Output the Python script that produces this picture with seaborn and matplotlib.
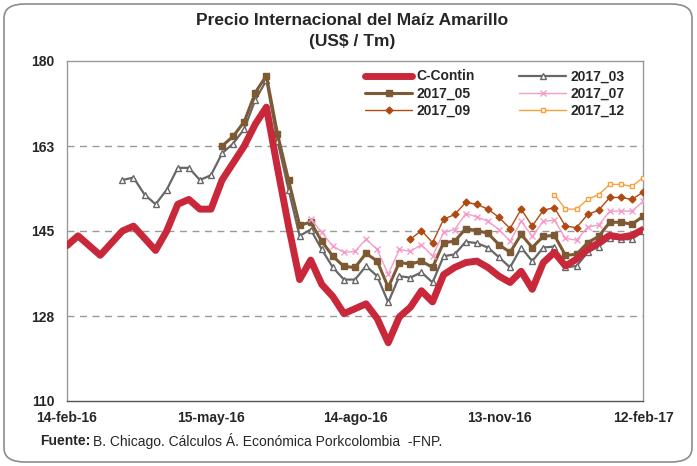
import numpy as np
import pandas as pd
import matplotlib
matplotlib.use("Agg")
import matplotlib.pyplot as plt
import seaborn as sns
from matplotlib.patches import FancyBboxPatch

nan = np.nan

# weekly dates, 14-feb-16 .. 12-feb-17
fechas = pd.date_range("2016-02-14", "2017-02-12", freq="7D")

c_contin = [142, 144, 142, 140, 142.5, 145, 146, 143.5, 141, 145,
            150.5, 151.5, 149.5, 149.5, 155.5, 159, 162.5, 167, 170.5, 158,
            146, 135, 139, 134, 131.5, 128, 129, 130, 127, 122,
            127.3, 129.3, 132.7, 130.4, 136, 137.5, 138.5, 138.8, 137.5, 135.7,
            134.4, 136.7, 133, 138.5, 140.6, 137.8, 139.2, 141.2, 142.6, 144.1,
            143.7, 144.1, 145.3]

s2017_03 = [nan, nan, nan, nan, nan, 155.5, 156, 152.5, 150.5, 153.5,
            158, 158, 155.5, 156.5, 161, 163, 166, 172, 176, 163.5,
            153.5, 144, 145.3, 141.2, 137.5, 135, 135, 137.8, 135.7, 130.3,
            135.7, 135.4, 136.5, 134.4, 139.8, 140.2, 142.8, 142.5, 141.6, 139.6,
            137.5, 141.6, 138.8, 141.6, 141.8, 137.5, 137.8, 140.6, 141.8, 143.5,
            143.3, 143.3, 145]

s2017_05 = [nan] * 14 + [162.5, 164.5, 167.5, 173.5, 177, 165,
            155.5, 146.2, 146.8, 142.9, 139.8, 137.7, 137.5, 140.4, 138.8, 133.4,
            138.5, 138.2, 138.8, 137.5, 142.6, 142.9, 145.5, 145.1, 144.5, 142.2,
            140.6, 144.3, 141.6, 143.9, 144.1, 140, 140.2, 142.6, 143.9, 146.8,
            146.8, 146.4, 148]

s2017_07 = [nan] * 22 + [147.4, 144.7, 141.9, 140.6, 140.8, 143.3, 141.2, 136.1,
            141.2, 140.8, 142.2, 139.8, 144.7, 145.3, 148.6, 147.9, 147, 145.3,
            142.9, 147, 143.9, 147, 147.2, 143.5, 143.1, 145.8, 146.2, 149.1,
            149.1, 149.1, 151.1]

s2017_09 = [nan] * 31 + [143.3, 145.1, 142.6, 147.4, 148.4, 150.9, 150.5, 149.5, 147.8,
            145.5, 149.5, 146, 149.3, 149.8, 146, 145.7, 148.4, 149.3, 151.9,
            151.9, 151.5, 153]

s2017_12 = [nan] * 44 + [152.5, 149.5, 149.5, 151.5, 152.5, 154.6, 154.6, 154.2, 156]

tick_fechas = ["2016-02-14", "2016-05-15", "2016-08-14", "2016-11-13", "2017-02-12"]
tick_labels = ["14-feb-16", "15-may-16", "14-ago-16", "13-nov-16", "12-feb-17"]
y_ticks = [110, 127.5, 145, 162.5, 180]
y_labels = ["110", "128", "145", "163", "180"]

sns.set_style("white")
plt.rcParams['font.family'] = ['Liberation Sans', 'DejaVu Sans']

fig = plt.figure(figsize=(6.97, 4.66), dpi=100)
ax = fig.add_axes([67/697, 1 - 401/466, 576/697, 340/466])

# series: name, data, color, lw, marker, msize, mface
series = [
    ("C-Contin", c_contin, "#C9283B", 5, None, 0, None),
    ("2017_03", s2017_03, "#676767", 1.6, "^", 4, "white"),
    ("2017_05", s2017_05, "#7E5A34", 2.2, "s", 5, "#7E5A34"),
    ("2017_07", s2017_07, "#F59CC8", 1.0, "x", 5, "#F59CC8"),
    ("2017_09", s2017_09, "#B04A12", 1.0, "D", 3.5, "#B04A12"),
    ("2017_12", s2017_12, "#F7A03F", 1.0, "s", 3.5, "white"),
]

handles = {}
for name, vals, col, lw, mk, ms, mf in series:
    df = pd.DataFrame({"fecha": fechas, "valor": vals}).dropna()
    sns.lineplot(data=df, x="fecha", y="valor", ax=ax, color=col, linewidth=lw,
                 marker=mk, markersize=ms, markerfacecolor=mf, markeredgecolor=col,
                 markeredgewidth=1.0, label=name, zorder=5 if name == "C-Contin" else 3,
                 solid_joinstyle="round", solid_capstyle="round")
    handles[name] = ax.lines[-1]

ax.set_xlim(fechas[0], fechas[-1])
ax.set_ylim(110, 180)
ax.set_yticks(y_ticks)
ax.set_yticklabels(y_labels, fontsize=10, fontweight="bold")
ax.set_xticks(pd.to_datetime(tick_fechas))
ax.set_xticklabels(tick_labels, fontsize=10, fontweight="bold")
ax.set_xlabel("")
ax.set_ylabel("")
ax.tick_params(axis="both", direction="out", length=4, width=1, color="#808080", pad=3)
ax.tick_params(axis="y", pad=5)
for yv in y_ticks[1:4]:
    ax.axhline(yv, color="#999999", lw=1, ls=(0, (5, 4)), zorder=1)
for s in ax.spines.values():
    s.set_color("#999999")
    s.set_linewidth(1)
ax.spines["bottom"].set_color("#555555")

order = ["C-Contin", "2017_05", "2017_09", "2017_03", "2017_07", "2017_12"]
ax.legend([handles[n] for n in order], order, ncol=2, loc="upper right",
          bbox_to_anchor=(0.99, 1.012), frameon=False,
          prop={"weight": "bold", "size": 10}, handlelength=3.4,
          handletextpad=0.3, columnspacing=3.2, labelspacing=0.22)

fig.text(0.505, 0.957, "Precio Internacional del Maíz Amarillo", ha="center", va="center",
         fontsize=12.5, fontweight="bold")
fig.text(0.505, 0.912, "(US$ / Tm)", ha="center", va="center",
         fontsize=12.5, fontweight="bold")

t1 = fig.text(40/697, 1 - 441/466, "Fuente:", ha="left", va="center", fontsize=10, fontweight="bold")
fig.canvas.draw()
bb = t1.get_window_extent(renderer=fig.canvas.get_renderer())
fig.text((bb.x1 + 3) / fig.bbox.width, 1 - 441/466,
         "B. Chicago. Cálculos Á. Económica Porkcolombia  -FNP.",
         ha="left", va="center", fontsize=10)

border = FancyBboxPatch((4/697, 4/466), 688/697, 458/466, transform=fig.transFigure,
                        boxstyle="round,pad=0,rounding_size=0.03", fill=False,
                        edgecolor="#8C8C8C", linewidth=1.2)
fig.patches.append(border)

fig.savefig("out.png", dpi=100)
